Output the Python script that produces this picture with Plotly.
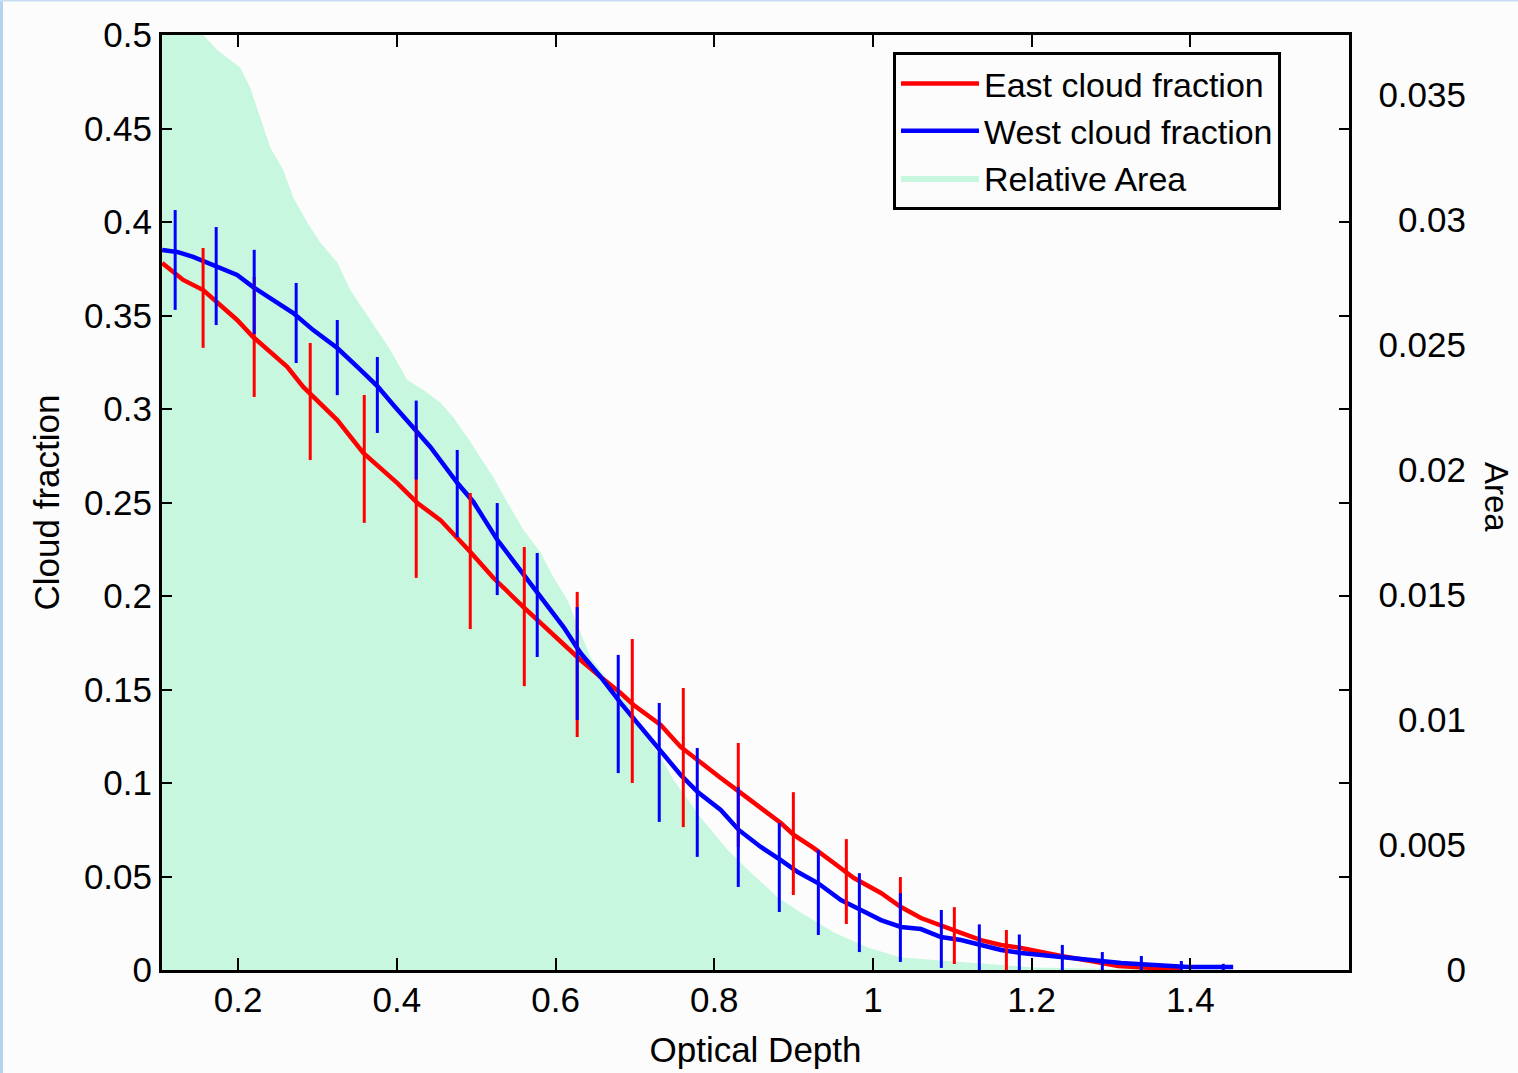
import plotly.graph_objects as go

# ---------------- data ----------------
# Relative area (right axis, "Area")
area_x = [0.104, 0.150, 0.156, 0.1735, 0.2025, 0.2151, 0.2278, 0.2404, 0.2568, 0.2694,
          0.2871, 0.3035, 0.3249, 0.3413, 0.3666, 0.3918, 0.4132, 0.4334, 0.4549, 0.4713,
          0.4890, 0.5091, 0.5218, 0.5394, 0.5596, 0.5811, 0.5975, 0.6151, 0.6315, 0.6442,
          0.6656, 0.6909, 0.7073, 0.7325, 0.7489, 0.7830, 0.8170, 0.8461, 0.8801, 0.9091,
          0.9508, 0.9937, 1.0353, 1.0770, 1.1199, 1.2032, 1.2880, 1.4140]
area_y = [0.0400, 0.0385, 0.0374, 0.0368, 0.0361, 0.0353, 0.0341, 0.0329, 0.0320, 0.0309,
          0.0299, 0.0291, 0.0283, 0.0272, 0.0260, 0.0248, 0.0236, 0.0232, 0.0227, 0.0221,
          0.0213, 0.0203, 0.0197, 0.0187, 0.0176, 0.0167, 0.0157, 0.0148, 0.0135, 0.0125,
          0.0116, 0.0108, 0.0097, 0.0085, 0.0076, 0.0061, 0.0048, 0.0039, 0.0029, 0.0023,
          0.0015, 0.0009, 0.0005, 0.0004, 0.0003, 0.0001, 0.00005, 0.0]

# East cloud fraction (red line)
east_x = [0.1042, 0.1307, 0.1559, 0.1735, 0.1987, 0.2189, 0.2366, 0.2618, 0.2820, 0.3073,
          0.3249, 0.3577, 0.4006, 0.4259, 0.4549, 0.4927, 0.5218, 0.5596, 0.5811, 0.6025,
          0.6315, 0.6568, 0.6820, 0.6984, 0.7325, 0.7577, 0.7830, 0.8082, 0.8334, 0.8587,
          0.8839, 0.9003, 0.9255, 0.9508, 0.9760, 1.0101, 1.0353, 1.0605, 1.0857, 1.1110,
          1.1362, 1.1615, 1.1867, 1.2120, 1.2372, 1.2750, 1.3091, 1.3507, 1.3885]
east_y = [0.3781, 0.3690, 0.3636, 0.3572, 0.3476, 0.3385, 0.3316, 0.3225, 0.3118, 0.3011,
          0.2941, 0.2765, 0.2604, 0.2497, 0.2406, 0.2235, 0.2096, 0.1941, 0.1856, 0.1765,
          0.1658, 0.1567, 0.1481, 0.1417, 0.1310, 0.1193, 0.1107, 0.1027, 0.0947, 0.0866,
          0.0786, 0.0722, 0.0652, 0.0572, 0.0492, 0.0412, 0.0337, 0.0278, 0.0241, 0.0198,
          0.0160, 0.0134, 0.0118, 0.0096, 0.0075, 0.0048, 0.0021, 0.0011, 0.0005]

# West cloud fraction (blue line)
west_x = [0.1042, 0.1231, 0.1433, 0.1735, 0.1987, 0.2189, 0.2442, 0.2694, 0.2946, 0.3249,
          0.3502, 0.3754, 0.3956, 0.4170, 0.4422, 0.4763, 0.4965, 0.5268, 0.5432, 0.5647,
          0.5849, 0.6101, 0.6315, 0.6568, 0.6820, 0.7073, 0.7325, 0.7577, 0.7792, 0.8082,
          0.8309, 0.8587, 0.8839, 0.9053, 0.9306, 0.9596, 0.9849, 1.0101, 1.0353, 1.0605,
          1.0857, 1.1110, 1.1362, 1.1615, 1.1867, 1.2372, 1.2712, 1.3128, 1.3544, 1.3973,
          1.4540]
west_y = [0.3850, 0.3840, 0.3813, 0.3759, 0.3717, 0.3652, 0.3583, 0.3513, 0.3422, 0.3326,
          0.3225, 0.3123, 0.3021, 0.2914, 0.2797, 0.2604, 0.2503, 0.2299, 0.2209, 0.2091,
          0.1979, 0.1834, 0.1695, 0.1567, 0.1428, 0.1299, 0.1176, 0.1043, 0.0952, 0.0856,
          0.0749, 0.0658, 0.0588, 0.0524, 0.0465, 0.0374, 0.0321, 0.0267, 0.0230, 0.0219,
          0.0176, 0.0160, 0.0134, 0.0107, 0.0091, 0.0070, 0.0053, 0.0037, 0.0027, 0.0016,
          0.0016]

# Error bars (centre value and half-length)
east_err_x = [0.1558, 0.2202, 0.2908, 0.3589, 0.4244, 0.4925, 0.5606, 0.6273, 0.6967, 0.7610,
              0.8303, 0.8997, 0.9665, 1.0346, 1.1026, 1.1682]
east_err_y = [0.3594, 0.3385, 0.3040, 0.2733, 0.2503, 0.2187, 0.1890, 0.1634, 0.1385, 0.1136,
              0.0936, 0.0676, 0.0473, 0.0358, 0.0184, 0.0107]
east_err = [0.0267, 0.0321, 0.0313, 0.0342, 0.0406, 0.0364, 0.0372, 0.0388, 0.0385, 0.0372,
            0.0278, 0.0275, 0.0227, 0.0139, 0.0152, 0.0107]

west_err_x = [0.1206, 0.1723, 0.2202, 0.2731, 0.3249, 0.3754, 0.4244, 0.4761, 0.5265, 0.5769,
              0.6273, 0.6790, 0.7307, 0.7786, 0.8303, 0.8820, 0.9312, 0.9829, 1.0346, 1.0862,
              1.1341, 1.1845, 1.2387, 1.2891, 1.3383, 1.3887, 1.4416]
west_err_y = [0.3797, 0.3711, 0.3626, 0.3460, 0.3275, 0.3075, 0.2834, 0.2548, 0.2251, 0.1952,
              0.1639, 0.1369, 0.1110, 0.0896, 0.0711, 0.0548, 0.0414, 0.0307, 0.0227, 0.0166,
              0.0118, 0.0091, 0.0064, 0.0043, 0.0032, 0.0021, 0.0011]
west_err = [0.0267, 0.0262, 0.0225, 0.0214, 0.0201, 0.0203, 0.0211, 0.0233, 0.0246, 0.0278,
            0.0302, 0.0316, 0.0318, 0.0291, 0.0267, 0.0238, 0.0227, 0.0211, 0.0184, 0.0155,
            0.0126, 0.0099, 0.0070, 0.0053, 0.0043, 0.0027, 0.0022]

x_ticks = [0.2, 0.4, 0.6, 0.8, 1.0, 1.2, 1.4]

# ---------------- figure ----------------
FONT = "Liberation Sans, Arial, sans-serif"
RED = "#ff0000"
BLUE = "#0000ff"
MINT = "#c8f7e0"

fig = go.Figure()

# Area on the base axis (y) so it is drawn beneath the cloud-fraction lines (y2)
fig.add_trace(go.Scatter(
    x=area_x, y=area_y, yaxis="y", name="Relative Area",
    mode="lines", line=dict(width=0, color=MINT),
    fill="tozeroy", fillcolor=MINT, legendrank=3, hoverinfo="skip"))

fig.add_trace(go.Scatter(
    x=east_x, y=east_y, yaxis="y2", name="East cloud fraction", mode="lines",
    line=dict(color=RED, width=4.5), legendrank=1))
fig.add_trace(go.Scatter(
    x=west_x, y=west_y, yaxis="y2", name="West cloud fraction", mode="lines",
    line=dict(color=BLUE, width=4.5), legendrank=2))

fig.add_trace(go.Scatter(
    x=east_err_x, y=east_err_y, yaxis="y2", mode="markers",
    marker=dict(size=0.1, color=RED, opacity=0),
    error_y=dict(type="data", array=east_err, visible=True, color=RED, thickness=3, width=0),
    showlegend=False, hoverinfo="skip"))
fig.add_trace(go.Scatter(
    x=west_err_x, y=west_err_y, yaxis="y2", mode="markers",
    marker=dict(size=0.1, color=BLUE, opacity=0),
    error_y=dict(type="data", array=west_err, visible=True, color=BLUE, thickness=3, width=0),
    showlegend=False, hoverinfo="skip"))

L, R, T, B = 162, 48, 35, 103
W, H = 1518, 1073
paper_w = W - L - R
paper_h = H - T - B
x_dom_end = (1349 - L) / paper_w

fig.update_layout(
    width=W, height=H, autosize=False,
    margin=dict(l=L, r=R, t=T, b=B, pad=0, autoexpand=False),
    paper_bgcolor="#fcfcfc", plot_bgcolor="#fcfcfc",
    font=dict(family=FONT, size=35, color="black"),
    xaxis=dict(
        domain=[0, x_dom_end], range=[0.104, 1.6], automargin=False,
        tickvals=x_ticks, ticks="inside", ticklen=12, tickwidth=2, tickcolor="black",
        showline=True, linecolor="black", linewidth=3, mirror="ticks",
        showgrid=False, zeroline=False, ticklabelstandoff=-3,
        title=dict(text="Optical Depth", standoff=20, font=dict(size=35)),
        tickfont=dict(size=35)),
    yaxis=dict(
        anchor="free", position=1.0, side="left", automargin=False,
        range=[0, 0.0374], dtick=0.005, tick0=0,
        ticks="", showline=False, showgrid=False, zeroline=False,
        tickfont=dict(size=35), ticklabelstandoff=4),
    yaxis2=dict(
        overlaying="y", anchor="x", side="left", automargin=False,
        range=[0, 0.5], dtick=0.05, tick0=0,
        ticks="inside", ticklen=10, tickwidth=2, tickcolor="black",
        showline=True, linecolor="black", linewidth=3, mirror="ticks",
        showgrid=False, zeroline=False, ticklabelstandoff=0,
        title=dict(text="Cloud fraction", standoff=14, font=dict(size=35)),
        tickfont=dict(size=35)),
    legend=dict(
        x=(893 - L) / paper_w, y=(970 - 52) / paper_h,
        xanchor="left", yanchor="top",
        bgcolor="#fcfcfc", bordercolor="black", borderwidth=3,
        font=dict(size=34), itemwidth=78, tracegroupgap=0,
        traceorder="normal"),
    annotations=[dict(
        text="Area", x=(1497 - L) / paper_w, y=(970 - 497) / paper_h,
        xref="paper", yref="paper", xanchor="center", yanchor="middle",
        showarrow=False, textangle=90, font=dict(size=33))],
)

# window frame decoration (left light-blue edge, top line)
fig.add_shape(type="rect", xref="paper", yref="paper",
              x0=-L / paper_w, x1=(3 - L) / paper_w, y0=-B / paper_h, y1=1 + T / paper_h,
              fillcolor="#b5d3ef", line=dict(width=0), layer="below")
fig.add_shape(type="rect", xref="paper", yref="paper",
              x0=-L / paper_w, x1=(W - L) / paper_w, y0=1 + (T - 1.5) / paper_h, y1=1 + T / paper_h,
              fillcolor="#c6ddf2", line=dict(width=0), layer="below")

fig.write_html("out.html", config={"displayModeBar": False},
               post_script="document.body.style.margin='0';document.body.style.overflow='hidden';")
